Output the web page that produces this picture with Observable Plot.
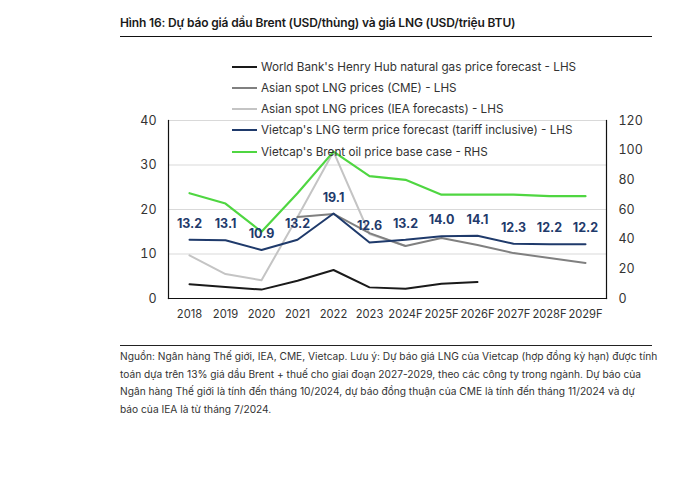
<!DOCTYPE html>
<html>
<head>
<meta charset="utf-8">
<script src="https://cdn.jsdelivr.net/npm/d3@7"></script>
<script src="https://cdn.jsdelivr.net/npm/@observablehq/plot@0.6"></script>
<style>
  html, body { margin: 0; padding: 0; background: #fff; }
  body { width: 673px; height: 481px; position: relative; overflow: hidden; font-family: Inter, "Noto Sans", sans-serif; color: #333; }
  #title { position: absolute; left: 120px; top: 15px; font-size: 12px; font-weight: 600; color: #1a1a1a; letter-spacing: -0.15px; white-space: nowrap; }
  #titleRule { position: absolute; left: 120px; top: 36px; width: 532px; height: 0; border-top: 1.5px solid #111; }
  #chart { position: absolute; left: 0; top: 0; }
  #legend { position: absolute; left: 232px; top: 56px; font-size: 11.7px; color: #333; }
  .row { height: 21.25px; display: flex; align-items: center; white-space: nowrap; }
  .sw { width: 25px; height: 0; border-top: 2.5px solid; margin-right: 4px; }
  #capRule { position: absolute; left: 120px; top: 345px; width: 532px; height: 0; border-top: 1px solid #222; }
  #caption { position: absolute; left: 120px; top: 348px; width: 540px; font-size: 10.2px; line-height: 17.5px; color: #333; white-space: nowrap; }
</style>
</head>
<body>
<div id="title"></div>
<div id="titleRule"></div>
<div id="chart"></div>
<div id="legend"></div>
<div id="capRule"></div>
<div id="caption"></div>
<script>
const titleText = "Hình 16: Dự báo giá dầu Brent (USD/thùng) và giá LNG (USD/triệu BTU)";
const captionLines = [
  "Nguồn: Ngân hàng Thế giới, IEA, CME, Vietcap. Lưu ý: Dự báo giá LNG của Vietcap (hợp đồng kỳ hạn) được tính",
  "toán dựa trên 13% giá dầu Brent + thuế cho giai đoạn 2027-2029, theo các công ty trong ngành. Dự báo của",
  "Ngân hàng Thế giới là tính đến tháng 10/2024, dự báo đồng thuận của CME là tính đến tháng 11/2024 và dự",
  "báo của IEA là từ tháng 7/2024."
];

const years = ["2018","2019","2020","2021","2022","2023","2024F","2025F","2026F","2027F","2028F","2029F"];
const henryHubYears = ["2018","2019","2020","2021","2022","2023","2024F","2025F","2026F"];
const henryHub = [3.2, 2.6, 2.0, 4.0, 6.4, 2.5, 2.2, 3.3, 3.7];
const cmeYears = ["2021","2022","2023","2024F","2025F","2026F","2027F","2028F","2029F"];
const cme = [18.3, 19.0, 14.7, 11.8, 13.6, 12.0, 10.2, 9.1, 8.0];
const ieaYears = ["2018","2019","2020","2021","2022","2023","2024F"];
const iea = [9.7, 5.5, 4.1, 18.3, 33.0, 14.5, 11.8];
const vietcapLng = [13.2, 13.1, 10.9, 13.2, 19.1, 12.6, 13.2, 14.0, 14.1, 12.3, 12.2, 12.2];
const brent = [71, 64, 45, 71, 99, 82.5, 80, 70, 70, 70, 69, 69];

const leftTicks = [0, 10, 20, 30, 40];
const rightTicks = [0, 20, 40, 60, 80, 100, 120];

const seriesNames = [
  "World Bank's Henry Hub natural gas price forecast - LHS",
  "Asian spot LNG prices (CME) - LHS",
  "Asian spot LNG prices (IEA forecasts) - LHS",
  "Vietcap's LNG term price forecast (tariff inclusive) - LHS",
  "Vietcap's Brent oil price base case - RHS"
];
const seriesColors = ["#1a1a1a", "#808080", "#c4c4c4", "#1f3a6b", "#4fd641"];

const zip = (xs, vs) => xs.map((x, i) => ({x, v: vs[i]}));
const hhData = zip(henryHubYears, henryHub);
const cmeData = zip(cmeYears, cme);
const ieaData = zip(ieaYears, iea);
const vcData = zip(years, vietcapLng);
const brentData = zip(years, brent);
const rhsFactor = 40 / 120;

document.getElementById("title").textContent = titleText;
document.getElementById("caption").innerHTML = captionLines.join("<br>");

const legend = document.getElementById("legend");
seriesNames.forEach((n, i) => {
  const r = document.createElement("div");
  r.className = "row";
  const s = document.createElement("div");
  s.className = "sw";
  s.style.borderTopColor = seriesColors[i];
  const t = document.createElement("span");
  t.textContent = n;
  r.appendChild(s); r.appendChild(t);
  legend.appendChild(r);
});

const plot = Plot.plot({
  width: 673,
  height: 340,
  marginLeft: 168,
  marginRight: 67,
  marginTop: 120,
  marginBottom: 42,
  style: {fontFamily: "Inter, 'Noto Sans', sans-serif", fontSize: "12px", color: "#333", background: "transparent"},
  x: {type: "point", domain: years, padding: 0.5, label: null},
  y: {domain: [0, 40], label: null},
  marks: [
    Plot.gridY([10, 20, 30, 40], {stroke: "#d9d9d9", strokeOpacity: 1, strokeWidth: 1}),
    Plot.frame({anchor: "left", stroke: "#111", strokeWidth: 1.2}),
    Plot.frame({anchor: "right", stroke: "#111", strokeWidth: 1.2}),
    Plot.frame({anchor: "bottom", stroke: "#111", strokeWidth: 1.2}),
    Plot.line(ieaData, {x: "x", y: "v", stroke: seriesColors[2], strokeWidth: 2}),
    Plot.line(cmeData, {x: "x", y: "v", stroke: seriesColors[1], strokeWidth: 2}),
    Plot.line(hhData, {x: "x", y: "v", stroke: seriesColors[0], strokeWidth: 2}),
    Plot.line(vcData, {x: "x", y: "v", stroke: seriesColors[3], strokeWidth: 2}),
    Plot.line(brentData, {x: "x", y: d => d.v * rhsFactor, stroke: seriesColors[4], strokeWidth: 2.2}),
    Plot.text(vcData, {x: "x", y: "v", text: d => d.v.toFixed(1), dy: -16, fill: "#1f3a6b", fontWeight: 700, fontSize: 12.5}),
    Plot.axisX({tickSize: 0, tickPadding: 12, fontSize: 11.2, fill: "#333", label: null}),
    Plot.axisY({ticks: leftTicks, tickSize: 0, tickPadding: 12, fontSize: 12.5, fill: "#333", label: null}),
    Plot.axisY({anchor: "right", ticks: rightTicks.map(d => d * rhsFactor), tickFormat: d => String(Math.round(d / rhsFactor)), tickSize: 0, tickPadding: 12, fontSize: 12.5, fill: "#333", label: null})
  ]
});
document.getElementById("chart").appendChild(plot);
</script>
</body>
</html>
